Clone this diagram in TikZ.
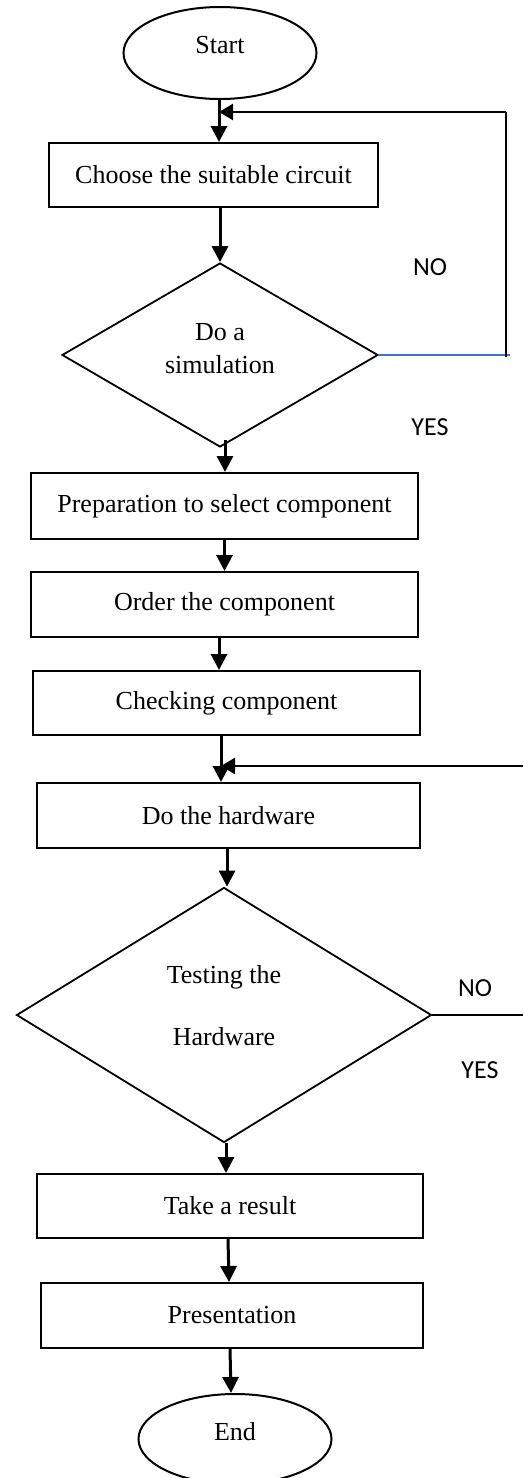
\documentclass[tikz,border=0pt]{standalone}
\usepackage{fontspec}
\setmainfont{Liberation Serif}
\newfontfamily\lblfont{Carlito}
\usetikzlibrary{shapes.geometric,arrows.meta}
\definecolor{noblue}{RGB}{68,114,196}
\begin{document}
\begin{tikzpicture}[x=1pt,y=-1pt,
  every node/.style={font=\fontsize{26}{31}\selectfont},
  procbox/.style={draw,line width=2pt,rectangle,inner sep=0pt,minimum height=65pt},
  termnode/.style={draw,line width=2pt,ellipse,inner sep=0pt},
  decnode/.style={draw,line width=1.8pt,diamond,inner sep=0pt},
  plain/.style={inner sep=0pt,align=center},
  yn/.style={inner sep=0pt,font=\lblfont\fontsize{26}{31}\selectfont},
  arr/.style={line width=3pt,-{Triangle[length=16pt,width=16pt]}},
  larr/.style={line width=2.5pt,-{Triangle[length=14pt,width=16pt]}},
  fbline/.style={line width=2.5pt}
]
\useasboundingbox (0,0) rectangle (523,1478);

\node[termnode,minimum width=193pt,minimum height=92pt] (start) at (220,53) {};
\node[plain] (starttxt) at (220,45) {Start};
\node[procbox,minimum width=329pt,minimum height=64pt] (choose) at (213.5,175) {Choose the suitable circuit};
\node[decnode,minimum width=316pt,minimum height=184pt] (d1) at (220,355) {};
\node[plain,font=\fontsize{26}{33}\selectfont] (d1txt) at (220,349) {Do a\\simulation};
\node[procbox,minimum width=387pt,minimum height=66pt] (prep) at (224.5,506) {Preparation to select component};
\node[procbox,minimum width=387pt] (order) at (224.5,604.5) {Order the component};
\node[procbox,minimum width=387pt,minimum height=64pt] (check) at (226.5,703) {Checking component};
\node[procbox,minimum width=383pt] (hw) at (228.5,815.5) {Do the hardware};
\node[decnode,minimum width=415pt,minimum height=255pt] (d2) at (224,1015) {};
\node[plain,font=\fontsize{26}{62}\selectfont] (d2txt) at (224,1006) {Testing the\\Hardware};
\node[procbox,minimum width=386pt,minimum height=64pt] (take) at (230,1206) {Take a result};
\node[procbox,minimum width=382pt] (pres) at (232,1315.5) {Presentation};
\node[termnode,minimum width=193pt,minimum height=90pt] (end) at (235,1439) {};
\node[plain] (endtxt) at (235,1432) {End};

\node[yn] (no1) at (430,267) {NO};
\node[yn] (yes1) at (430,427) {YES};
\node[yn] (no2) at (475,988) {NO};
\node[yn] (yes2) at (480,1070) {YES};

\coordinate (c1a) at (510,355);
\coordinate (c1b) at (506,356.5);
\coordinate (c1c) at (506,112);
\coordinate (m1) at (219,112);
\coordinate (c2a) at (523,1015);
\coordinate (c2b) at (523,766);
\coordinate (m2) at (221,766);

\draw[arr] (start.south -| m1) -- (choose.north -| m1);
\draw[arr] (choose.south -| 220,0) -- (d1.north);
\draw[arr] ([xshift=5pt]d1.south) ++(0,-8) -- (prep.north -| 225,0);
\draw[arr] (prep.south) -- (order.north);
\draw[arr] (order.south -| 219,0) -- (check.north -| 219,0);
\draw[arr] (check.south -| m2) -- (hw.north -| m2);
\draw[arr] (hw.south -| 227,0) -- (d2.north -| 227,0);
\draw[arr] ([xshift=2pt]d2.south) -- (take.north -| 226,0);
\draw[arr] (take.south -| 228,0) -- (pres.north -| 229,0);
\draw[arr] (pres.south -| 230,0) -- (end.north -| 231,0);

\draw[noblue,line width=1.5pt] (d1.east) -- (c1a);
\draw[fbline] (c1b) -- (c1c);
\draw[larr] (c1c) -- (m1);
\draw[fbline] (d2.east) -- (c2a);
\draw[larr] (c2b) -- (m2);
\end{tikzpicture}
\end{document}
